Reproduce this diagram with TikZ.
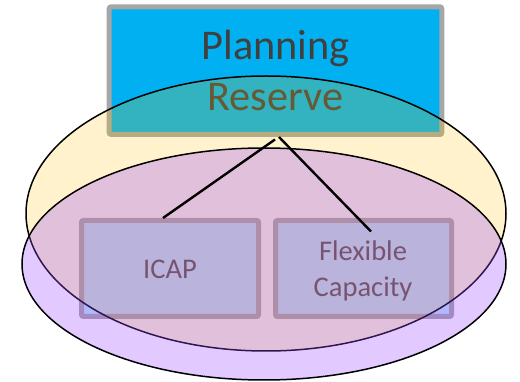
\documentclass[tikz,border=0pt]{standalone}
\usepackage{fontspec}
\setmainfont{Carlito}
\definecolor{prblue}{RGB}{0,176,240}
\definecolor{bordergray}{RGB}{166,166,166}
\definecolor{gold}{RGB}{255,192,0}
\definecolor{violet2}{RGB}{158,75,255}
\definecolor{boxfill}{RGB}{185,233,255}
\definecolor{txtgray}{RGB}{64,64,64}
\begin{document}
\begin{tikzpicture}[x=1pt,y=-1pt,
  topbox/.style={draw=bordergray, line width=5pt, fill=prblue, rounded corners=2pt,
    inner sep=0pt, minimum width=332.6pt, minimum height=127.7pt},
  subbox/.style={draw=bordergray, line width=5pt, fill=boxfill, rounded corners=2pt,
    inner sep=0pt, minimum height=96pt},
  bigtxt/.style={text=txtgray, font=\fontsize{42.3}{51}\selectfont, inner sep=0pt, anchor=base},
  smalltxt/.style={text=txtgray, font=\fontsize{28.5}{35}\selectfont, inner sep=0pt, anchor=base},
  conn/.style={draw=black, line width=2.4pt},
  ringline/.style={draw=black, line width=1.5pt}]
\useasboundingbox (0,0) rectangle (520,382);
% top box
\node[topbox] (pr) at (275.5,70.65) {};
\node[bigtxt] (t1) at (275.5,60) {Planning};
\node[bigtxt] (t2) at (275.5,111) {Reserve};
% lower boxes
\node[subbox, minimum width=177pt] (icap) at (170,268.5) {};
\node[subbox, minimum width=176pt] (flex) at (363.5,268.5) {};
\node[smalltxt] (t3) at (170,279) {ICAP};
\node[smalltxt] (t4) at (363,261) {Flexible};
\node[smalltxt] (t5) at (363,297) {Capacity};
% ellipses
\fill[gold, fill opacity=0.2] (266,213.5) ellipse [x radius=240pt, y radius=137.5pt];
\draw[ringline] (266,213.5) ellipse [x radius=240pt, y radius=137.5pt];
\fill[violet2, fill opacity=0.3] (264,264) ellipse [x radius=242pt, y radius=116pt];
\draw[ringline] (264,264) ellipse [x radius=242pt, y radius=116pt];
% connectors
\coordinate (a1) at ([xshift=-0.5pt,yshift=-2.5pt]pr.south);
\coordinate (a2) at ([xshift=3.5pt]pr.south);
\coordinate (b1) at ([xshift=-7pt]icap.north);
\coordinate (b2) at ([xshift=7.5pt,yshift=-13.5pt]flex.north);
\draw[conn] (a1) -- (b1);
\draw[conn] (a2) -- (b2);
\end{tikzpicture}
\end{document}
